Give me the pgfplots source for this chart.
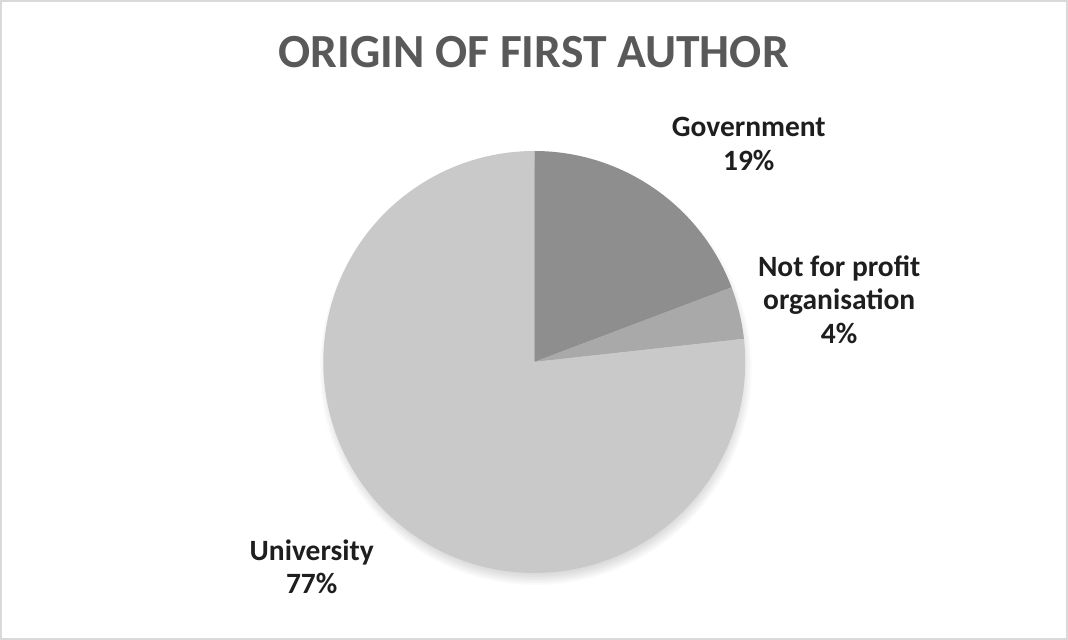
\documentclass[border=0pt]{standalone}
\usepackage{pgfplots}
\pgfplotsset{compat=1.18}
\usepackage{fontspec}
\setmainfont{Carlito}
\definecolor{cGov}{HTML}{8E8E8E}
\definecolor{cNfp}{HTML}{A9A9A9}
\definecolor{cUni}{HTML}{C9C9C9}
\definecolor{cTitle}{HTML}{595959}
\definecolor{cLab}{HTML}{1E1E1E}
\definecolor{cFrame}{HTML}{D9D9D9}
% data (percent)
\newcommand\vGov{19.25}
\newcommand\vNfp{4.0}
\newcommand\vUni{76.75}
\pgfmathsetmacro\aA{90}
\pgfmathsetmacro\aB{90-3.6*\vGov}
\pgfmathsetmacro\aC{\aB-3.6*\vNfp}
\pgfmathsetmacro\aD{\aC-3.6*\vUni}
\begin{document}
\begin{tikzpicture}
\begin{axis}[
  scale only axis, width=801pt, height=478.5pt,
  xmin=0, xmax=1068, ymin=0, ymax=638,
  hide axis, clip=false]
% frame
\draw[cFrame, line width=1.2pt] (axis cs:1.5,1.5) rectangle (axis cs:1063,636.5);
% soft shadow
\pgfplotsinvokeforeach{0,...,11}{
  \fill[black, opacity=0.02] (axis cs:534,270) circle[radius={148pt+#1*1.2pt}];
}
\fill[cGov] (axis cs:532.5,277) -- ++(\aA:157.5pt) arc[start angle=\aA, end angle=\aB, radius=157.5pt] -- cycle;
\fill[cNfp] (axis cs:532.5,277) -- ++(\aB:157.5pt) arc[start angle=\aB, end angle=\aC, radius=157.5pt] -- cycle;
\fill[cUni] (axis cs:532.5,277) -- ++(\aC:157.5pt) arc[start angle=\aC, end angle=\aD, radius=157.5pt] -- cycle;
% title
\node[text=cTitle, font=\bfseries\fontsize{35.5}{40}\selectfont] at (axis cs:532,585) {ORIGIN OF FIRST AUTHOR};
% labels
\node[text=cLab, font=\bfseries\fontsize{22}{24.75}\selectfont, align=center] at (axis cs:746,494) {Government\\19\%};
\node[text=cLab, font=\bfseries\fontsize{22}{24.75}\selectfont, align=center] at (axis cs:836,339) {Not for profit\\organisation\\4\%};
\node[text=cLab, font=\bfseries\fontsize{22}{24.75}\selectfont, align=center] at (axis cs:311,73) {University\\77\%};
\end{axis}
\end{tikzpicture}
\end{document}
